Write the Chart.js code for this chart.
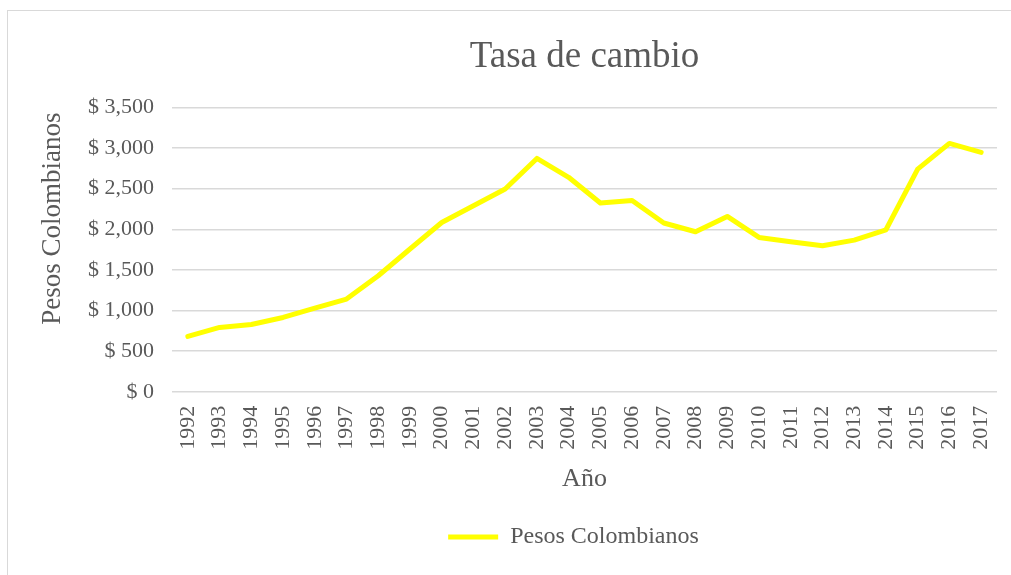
<!DOCTYPE html>
<html>
<head>
<meta charset="utf-8">
<script src="https://cdn.jsdelivr.net/npm/chart.js@4"></script>
<style>
  html, body { margin: 0; padding: 0; background: #ffffff; }
  #wrap { position: relative; width: 1011px; height: 575px; overflow: hidden; }
  #frame { position: absolute; left: 7px; top: 10px; width: 1010px; height: 600px; border: 1px solid #d9d9d9; box-sizing: border-box; }
  #c { position: absolute; left: 0; top: 0; }
</style>
</head>
<body>
<div id="wrap">
  <div id="frame"></div>
  <canvas id="c" width="1011" height="575"></canvas>
</div>
<script>
const chartTitle = 'Tasa de cambio';
const xTitle = 'Año';
const yTitle = 'Pesos Colombianos';
const seriesName = 'Pesos Colombianos';
const years = ['1992','1993','1994','1995','1996','1997','1998','1999','2000','2001','2002','2003','2004',
               '2005','2006','2007','2008','2009','2010','2011','2012','2013','2014','2015','2016','2017'];
const pesos = [681, 792, 829, 915, 1030, 1141, 1428, 1757, 2084, 2290, 2495, 2872, 2640,
               2323, 2355, 2077, 1970, 2158, 1900, 1847, 1797, 1867, 1994, 2741, 3057, 2946];
const yMin = 0, yMax = 3500, yStep = 500;

const TXT = '#595959';
const FONT = '"Liberation Serif", "Times New Roman", serif';

const yTitlePlugin = {
  id: 'yTitlePlugin',
  afterLayout(chart) {
    const lg = chart.legend;
    if (lg) { lg.left -= 11; lg.right -= 11; }
  },
  afterDraw(chart) {
    const ctx = chart.ctx;
    const a = chart.chartArea;
    ctx.save();
    ctx.font = '27px ' + FONT;
    ctx.fillStyle = TXT;
    ctx.textAlign = 'center';
    ctx.textBaseline = 'middle';
    ctx.translate(53, (a.top + a.bottom) / 2 - 31);
    ctx.rotate(-Math.PI / 2);
    ctx.fillText(yTitle, 0, 0);
    ctx.restore();
  }
};

new Chart(document.getElementById('c'), {
  type: 'line',
  data: {
    labels: years,
    datasets: [{
      label: seriesName,
      data: pesos,
      borderColor: '#FFFF00',
      backgroundColor: '#FFFF00',
      borderWidth: 5,
      borderCapStyle: 'round',
      borderJoinStyle: 'round',
      pointRadius: 0,
      pointHoverRadius: 0,
      pointStyle: 'line',
      tension: 0,
      fill: false
    }]
  },
  options: {
    responsive: false,
    animation: false,
    events: [],
    layout: { padding: { left: 10, right: 14, top: 10, bottom: 16 } },
    plugins: {
      title: {
        display: true,
        text: chartTitle,
        fullSize: false,
        color: TXT,
        font: { family: FONT, size: 37, weight: 'normal' },
        padding: { top: 25, bottom: 28 }
      },
      legend: {
        display: true,
        position: 'bottom',
        fullSize: false,
        labels: {
          color: TXT,
          font: { family: FONT, size: 24 },
          usePointStyle: true,
          pointStyleWidth: 50,
          padding: 10
        }
      },
      tooltip: { enabled: false }
    },
    scales: {
      x: {
        offset: true,
        grid: { display: false, drawTicks: false },
        border: { display: false },
        ticks: {
          color: TXT,
          font: { family: FONT, size: 22 },
          minRotation: 90,
          maxRotation: 90,
          autoSkip: false,
          padding: 14
        },
        title: {
          display: true,
          text: xTitle,
          color: TXT,
          font: { family: FONT, size: 26 },
          padding: { top: 0, bottom: 20 }
        },
        afterFit(scale) { scale.paddingLeft = 0; scale.paddingRight = 0; }
      },
      y: {
        min: yMin,
        max: yMax,
        grid: { color: '#d9d9d9', lineWidth: 1.5, drawTicks: false },
        border: { display: false },
        ticks: {
          stepSize: yStep,
          color: TXT,
          font: { family: FONT, size: 22 },
          padding: 18,
          callback: (v) => '$ ' + Number(v).toLocaleString('en-US')
        },
        afterFit(scale) { scale.width = 162; }
      }
    }
  },
  plugins: [yTitlePlugin]
});
</script>
</body>
</html>
